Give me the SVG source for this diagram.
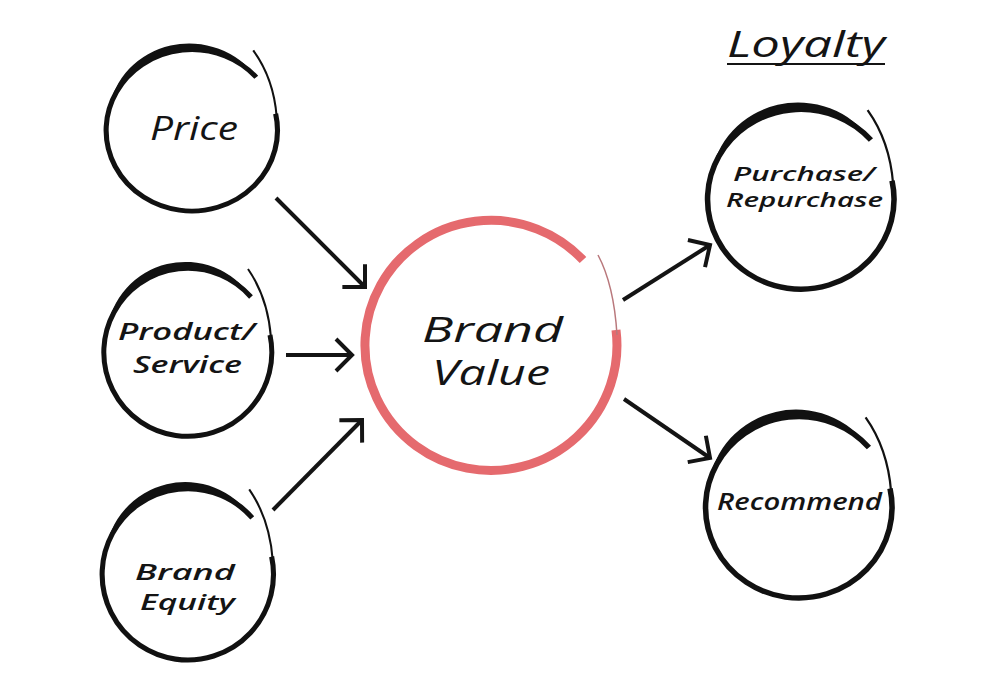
<svg xmlns="http://www.w3.org/2000/svg" xmlns:xlink="http://www.w3.org/1999/xlink" width="1000" height="682" viewBox="0 0 1000 682">
  <style>
    .lbl { font-family: "Open Sans", "Liberation Sans", sans-serif; font-style: italic; font-weight: 600; fill: #141414; }
    .big { font-weight: 500; }
    .arrow { fill: none; stroke: #141414; stroke-width: 4; stroke-linecap: butt; marker-end: url(#ah); }
    .ringMain { fill: none; stroke: #111; stroke-width: 5; }
    .ringTail { fill: none; stroke: #111; stroke-width: 2; }
  </style>
  <defs>
    <marker id="ah" markerUnits="userSpaceOnUse" markerWidth="40" markerHeight="40" viewBox="-20 -20 40 40" refX="0" refY="0" orient="auto">
      <path d="M -16,-16 L 0,0 L -16,16" fill="none" stroke="#141414" stroke-width="4"/>
    </marker>
    <g id="ring">
      <path class="ringMain" d="M 82,-18 A 84 84 0 1 1 63,-56"/>
      <path d="M -81.1,-21.7 A 79 79 0 0 1 63,-56 A 85 85 0 0 0 -81.1,-21.7 Z" fill="#111"/>
      <path class="ringTail" d="M 60,-84 Q 80,-55 83,-15"/>
    </g>
  </defs>
  <rect width="1000" height="682" fill="#ffffff"/>

  <g id="title">
    <text class="lbl big" x="727" y="57" font-size="36" textLength="158" lengthAdjust="spacingAndGlyphs">Loyalty</text>
    <line x1="727" y1="64" x2="885" y2="64" stroke="#141414" stroke-width="2"/>
  </g>

  <g id="price">
    <use xlink:href="#ring" transform="translate(192,131) scale(1.02,0.96)"/>
    <text class="lbl big" x="150" y="140" font-size="32" textLength="88" lengthAdjust="spacingAndGlyphs">Price</text>
  </g>

  <g id="product-service">
    <use xlink:href="#ring" transform="translate(188,353)"/>
    <text class="lbl" x="118" y="340" font-size="24" textLength="137" lengthAdjust="spacingAndGlyphs">Product/</text>
    <text class="lbl" x="133" y="373" font-size="24" textLength="109" lengthAdjust="spacingAndGlyphs">Service</text>
  </g>

  <g id="brand-equity">
    <use xlink:href="#ring" transform="translate(188,575) scale(1.02,1.02)"/>
    <text class="lbl" x="135" y="580" font-size="22" textLength="100" lengthAdjust="spacingAndGlyphs">Brand</text>
    <text class="lbl" x="140" y="610" font-size="22" textLength="95" lengthAdjust="spacingAndGlyphs">Equity</text>
  </g>

  <g id="brand-value">
    <path d="M 616,330 A 126 125 0 1 1 583,260" fill="none" stroke="#e56a6e" stroke-width="9"/>
    <path d="M 598,255 Q 614,285 617,335" fill="none" stroke="#b9787c" stroke-width="1.5"/>
    <text class="lbl big" x="422" y="342" font-size="35" textLength="141" lengthAdjust="spacingAndGlyphs">Brand</text>
    <text class="lbl big" x="432" y="385" font-size="35" textLength="118" lengthAdjust="spacingAndGlyphs">Value</text>
  </g>

  <g id="purchase">
    <use xlink:href="#ring" transform="translate(801,200) scale(1.11,1.07)"/>
    <text class="lbl" x="733" y="181" font-size="19" textLength="142" lengthAdjust="spacingAndGlyphs">Purchase/</text>
    <text class="lbl" x="726" y="207" font-size="19" textLength="157" lengthAdjust="spacingAndGlyphs">Repurchase</text>
  </g>

  <g id="recommend">
    <use xlink:href="#ring" transform="translate(799,508) scale(1.11,1.08)"/>
    <text class="lbl" x="717" y="510" font-size="23" textLength="165" lengthAdjust="spacingAndGlyphs">Recommend</text>
  </g>

  <g id="connectors">
    <line class="arrow" x1="276" y1="198" x2="365" y2="287"/>
    <line class="arrow" x1="286" y1="355" x2="352" y2="355"/>
    <line class="arrow" x1="273" y1="510" x2="362" y2="420"/>
    <line class="arrow" x1="623" y1="300" x2="710" y2="245"/>
    <line class="arrow" x1="624" y1="399" x2="710" y2="458"/>
  </g>
</svg>
